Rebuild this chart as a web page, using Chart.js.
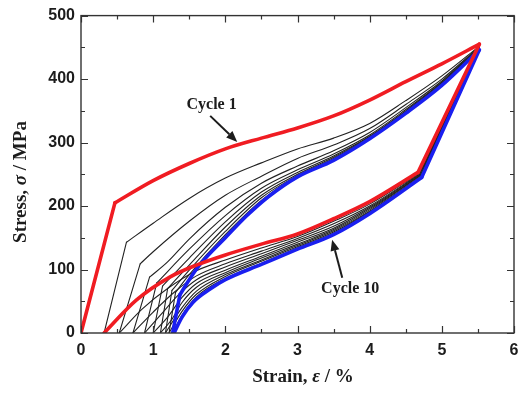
<!DOCTYPE html>
<html>
<head>
<meta charset="utf-8">
<script src="https://cdn.jsdelivr.net/npm/chart.js@4.4.1/dist/chart.umd.min.js"></script>
<style>
  html, body { margin: 0; padding: 0; background: #fff; }
  #wrap { width: 528px; height: 394px; }
</style>
</head>
<body>
<div id="wrap"><canvas id="chart"></canvas></div>
<script>
// cycles of the superelastic test
const cycles = ['Cycle 1', 'Cycle 2', 'Cycle 3', 'Cycle 4', 'Cycle 5',
                'Cycle 6', 'Cycle 7', 'Cycle 8', 'Cycle 9', 'Cycle 10'];

// loading branch, strain (%) and stress (MPa); point 1 is the knee
const loadStrain = [
  [0, 0.47, 1.0, 1.5, 2.0, 2.5, 3.0, 3.5, 4.0, 4.5, 5.0, 5.52],
  [0.32, 0.63, 1.0, 1.5, 2.0, 2.5, 3.0, 3.5, 4.0, 4.5, 5.0, 5.52],
  [0.53, 0.82, 1.0, 1.5, 2.0, 2.5, 3.0, 3.5, 4.0, 4.5, 5.0, 5.52],
  [0.72, 0.95, 1.2, 1.5, 2.0, 2.5, 3.0, 3.5, 4.0, 4.5, 5.0, 5.52],
  [0.88, 1.05, 1.5, 2.0, 2.5, 3.0, 3.5, 4.0, 4.5, 5.0, 5.52],
  [1.0, 1.13, 1.5, 2.0, 2.5, 3.0, 3.5, 4.0, 4.5, 5.0, 5.52],
  [1.1, 1.2, 1.5, 2.0, 2.5, 3.0, 3.5, 4.0, 4.5, 5.0, 5.52],
  [1.17, 1.26, 1.5, 2.0, 2.5, 3.0, 3.5, 4.0, 4.5, 5.0, 5.52],
  [1.22, 1.31, 1.5, 2.0, 2.5, 3.0, 3.5, 4.0, 4.5, 5.0, 5.52],
  [1.27, 1.37, 1.5, 1.65, 2.0, 2.3, 2.6, 3.0, 3.5, 4.0, 4.5, 5.0, 5.52]
];
const loadStress = [
  [0, 205, 240, 267, 290, 307, 323, 342, 367, 396, 424, 455],
  [0, 143, 173, 212, 244, 268, 290, 307, 330, 366, 405, 452],
  [0, 109, 128, 176, 217, 247, 275, 296, 322, 360, 400, 451],
  [0, 88, 112, 148, 198, 236, 263, 287, 316, 355, 397, 450],
  [0, 79, 132, 185, 228, 257, 282, 312, 352, 395, 449],
  [0, 74, 118, 175, 222, 253, 279, 310, 350, 394, 449],
  [0, 70, 107, 167, 217, 250, 277, 309, 349, 393, 448],
  [0, 67, 99, 160, 213, 248, 275, 308, 348, 392, 448],
  [0, 64, 92, 155, 209, 247, 274, 307, 347, 391, 447],
  [0, 60, 84, 108, 150, 185, 215, 246, 272, 306, 346, 390, 446]
];

// unloading branch, strain (%) and stress (MPa); point 1 is the corner
const unloadStrain = [
  [5.52, 4.67, 4.0, 3.5, 3.0, 2.5, 2.0, 1.6, 1.23, 0.77, 0.32],
  [5.52, 4.68, 4.0, 3.5, 3.0, 2.5, 2.0, 1.6, 1.2, 0.85, 0.53],
  [5.52, 4.69, 4.0, 3.5, 3.0, 2.5, 2.0, 1.6, 1.3, 1.0, 0.72],
  [5.52, 4.69, 4.0, 3.5, 3.0, 2.5, 2.0, 1.6, 1.35, 1.1, 0.88],
  [5.52, 4.7, 4.0, 3.5, 3.0, 2.5, 2.0, 1.6, 1.4, 1.2, 1.0],
  [5.52, 4.7, 4.0, 3.5, 3.0, 2.5, 2.0, 1.6, 1.4, 1.25, 1.1],
  [5.52, 4.71, 4.0, 3.5, 3.0, 2.5, 2.0, 1.6, 1.4, 1.17],
  [5.52, 4.71, 4.0, 3.5, 3.0, 2.5, 2.0, 1.6, 1.4, 1.22],
  [5.52, 4.72, 4.0, 3.5, 3.0, 2.5, 2.0, 1.6, 1.4, 1.27],
  [5.52, 4.72, 4.0, 3.5, 3.0, 2.5, 2.0, 1.8, 1.55, 1.4, 1.29]
];
const unloadStress = [
  [455, 253, 207, 180, 156, 140, 123, 107, 88, 52, 0],
  [452, 251, 203, 176, 152, 134, 115, 98, 70, 38, 0],
  [451, 250, 200, 172, 149, 129, 109, 90, 65, 33, 0],
  [450, 249, 198, 168, 146, 125, 104, 84, 60, 28, 0],
  [449, 248, 196, 165, 143, 121, 99, 78, 56, 25, 0],
  [449, 248, 194, 163, 140, 118, 95, 72, 48, 20, 0],
  [448, 247, 192, 161, 138, 115, 92, 66, 40, 0],
  [448, 246, 191, 159, 136, 113, 89, 61, 34, 0],
  [447, 246, 190, 157, 134, 110, 86, 57, 28, 0],
  [446, 245, 188, 155, 132, 108, 84, 70, 48, 25, 0]
];

// axis ticks
const strainTicks = [0, 1, 2, 3, 4, 5, 6];
const stressTicks = [0, 100, 200, 300, 400, 500];

// callouts: label, label centre, arrow tail, arrow tip (data units)
const callouts = [
  { text: 'Cycle 1',  at: [1.81, 359], from: [1.79, 342], to: [2.165, 301] },
  { text: 'Cycle 10', at: [3.73, 70],  from: [3.62, 87],  to: [3.48, 147] }
];

const INK = '#1c1c1c';
const SANS = '"Liberation Sans", Arial, sans-serif';
const SERIF = '"Liberation Serif", "Times New Roman", serif';

function toPoints(xs, ys) {
  return xs.map((x, i) => ({ x: x, y: ys[i] }));
}

function styleFor(i) {
  if (i === 0) return { color: '#f01c22', width: 3.6, order: 0 };
  if (i === cycles.length - 1) return { color: '#1a1ff0', width: 3.6, order: 1 };
  return { color: '#222222', width: 1.1, order: 2 };
}

// each branch = straight elastic part (points 0..1) + curved plateau (1..end)
const datasets = [];
cycles.forEach((name, i) => {
  const s = styleFor(i);
  const common = {
    borderColor: s.color,
    backgroundColor: s.color,
    borderWidth: s.width,
    order: s.order,
    showLine: true,
    pointRadius: 0,
    pointHoverRadius: 0,
    borderCapStyle: 'round',
    borderJoinStyle: 'round'
  };
  const load = toPoints(loadStrain[i], loadStress[i]);
  const unload = toPoints(unloadStrain[i], unloadStress[i]);
  datasets.push(Object.assign({ label: name + ' elastic', data: load.slice(0, 2) }, common));
  datasets.push(Object.assign({ label: name + ' loading', data: load.slice(1), cubicInterpolationMode: 'monotone' }, common));
  datasets.push(Object.assign({ label: name + ' drop', data: unload.slice(0, 2) }, common));
  datasets.push(Object.assign({ label: name + ' unloading', data: unload.slice(1), cubicInterpolationMode: 'monotone' }, common));
});

// draw a centred string made of plain and italic pieces
function richText(ctx, parts, size) {
  let total = 0;
  parts.forEach(p => {
    ctx.font = (p.italic ? 'italic ' : '') + 'bold ' + size + 'px ' + SERIF;
    p.w = ctx.measureText(p.t).width;
    total += p.w;
  });
  let x = -total / 2;
  parts.forEach(p => {
    ctx.font = (p.italic ? 'italic ' : '') + 'bold ' + size + 'px ' + SERIF;
    ctx.fillText(p.t, x, 0);
    x += p.w;
  });
}

const framePlugin = {
  id: 'frame',
  afterDatasetsDraw(chart) {
    const ctx = chart.ctx;
    const a = chart.chartArea;
    const xs = chart.scales.x, ys = chart.scales.y;
    ctx.save();
    ctx.strokeStyle = '#333';
    ctx.lineWidth = 1.4;
    ctx.strokeRect(a.left, a.top, a.right - a.left, a.bottom - a.top);

    // inward major and minor ticks on all four sides
    ctx.lineWidth = 1.2;
    ctx.beginPath();
    for (let v = 0; v <= 6.001; v += 0.5) {
      const px = Math.round(xs.getPixelForValue(v)) + 0.5;
      const len = Number.isInteger(v) ? 7 : 4;
      ctx.moveTo(px, a.bottom); ctx.lineTo(px, a.bottom - len);
      ctx.moveTo(px, a.top); ctx.lineTo(px, a.top + len);
    }
    for (let v = 0; v <= 500; v += 50) {
      const py = Math.round(ys.getPixelForValue(v)) + 0.5;
      const len = v % 100 === 0 ? 7 : 4;
      ctx.moveTo(a.left, py); ctx.lineTo(a.left + len, py);
      ctx.moveTo(a.right, py); ctx.lineTo(a.right - len, py);
    }
    ctx.stroke();

    // callouts
    ctx.fillStyle = INK;
    ctx.strokeStyle = INK;
    callouts.forEach(c => {
      const tx = xs.getPixelForValue(c.at[0]), ty = ys.getPixelForValue(c.at[1]);
      ctx.font = 'bold 16px ' + SERIF;
      ctx.textAlign = 'center';
      ctx.textBaseline = 'middle';
      ctx.fillText(c.text, tx, ty);

      const x0 = xs.getPixelForValue(c.from[0]), y0 = ys.getPixelForValue(c.from[1]);
      const x1 = xs.getPixelForValue(c.to[0]), y1 = ys.getPixelForValue(c.to[1]);
      const ang = Math.atan2(y1 - y0, x1 - x0);
      const head = 11, half = 4.5;
      const bx = x1 - head * Math.cos(ang), by = y1 - head * Math.sin(ang);
      ctx.lineWidth = 2;
      ctx.beginPath();
      ctx.moveTo(x0, y0); ctx.lineTo(bx, by);
      ctx.stroke();
      ctx.beginPath();
      ctx.moveTo(x1, y1);
      ctx.lineTo(bx + half * Math.sin(ang), by - half * Math.cos(ang));
      ctx.lineTo(bx - half * Math.sin(ang), by + half * Math.cos(ang));
      ctx.closePath();
      ctx.fill();
    });

    // axis titles
    ctx.textAlign = 'left';
    ctx.textBaseline = 'middle';
    ctx.save();
    ctx.translate(303, 377);
    richText(ctx, [{ t: 'Strain, ' }, { t: 'ε', italic: true }, { t: ' / %' }], 19);
    ctx.restore();
    ctx.save();
    ctx.translate(21, 182);
    ctx.rotate(-Math.PI / 2);
    richText(ctx, [{ t: 'Stress, ' }, { t: 'σ', italic: true }, { t: ' / MPa' }], 19);
    ctx.restore();
    ctx.restore();
  }
};

new Chart(document.getElementById('chart'), {
  type: 'scatter',
  data: { datasets: datasets },
  options: {
    responsive: true,
    maintainAspectRatio: false,
    animation: false,
    layout: { padding: { top: 14, right: 14, left: 0, bottom: 0 } },
    plugins: {
      legend: { display: false },
      tooltip: { enabled: false }
    },
    scales: {
      x: {
        type: 'linear',
        min: 0,
        max: 6,
        afterFit: s => { s.height = 61; },
        afterBuildTicks: s => { s.ticks = strainTicks.map(v => ({ value: v })); },
        grid: { display: false, drawTicks: false },
        border: { display: false },
        ticks: {
          padding: 8,
          color: INK,
          font: { family: SANS, size: 16, weight: 'bold' },
          maxRotation: 0
        }
      },
      y: {
        type: 'linear',
        min: 0,
        max: 500,
        afterFit: s => { s.width = 81; },
        afterBuildTicks: s => { s.ticks = stressTicks.map(v => ({ value: v })); },
        grid: { display: false, drawTicks: false },
        border: { display: false },
        ticks: {
          padding: 6,
          color: INK,
          font: { family: SANS, size: 16, weight: 'bold' }
        }
      }
    }
  },
  plugins: [framePlugin]
});
</script>
</body>
</html>
